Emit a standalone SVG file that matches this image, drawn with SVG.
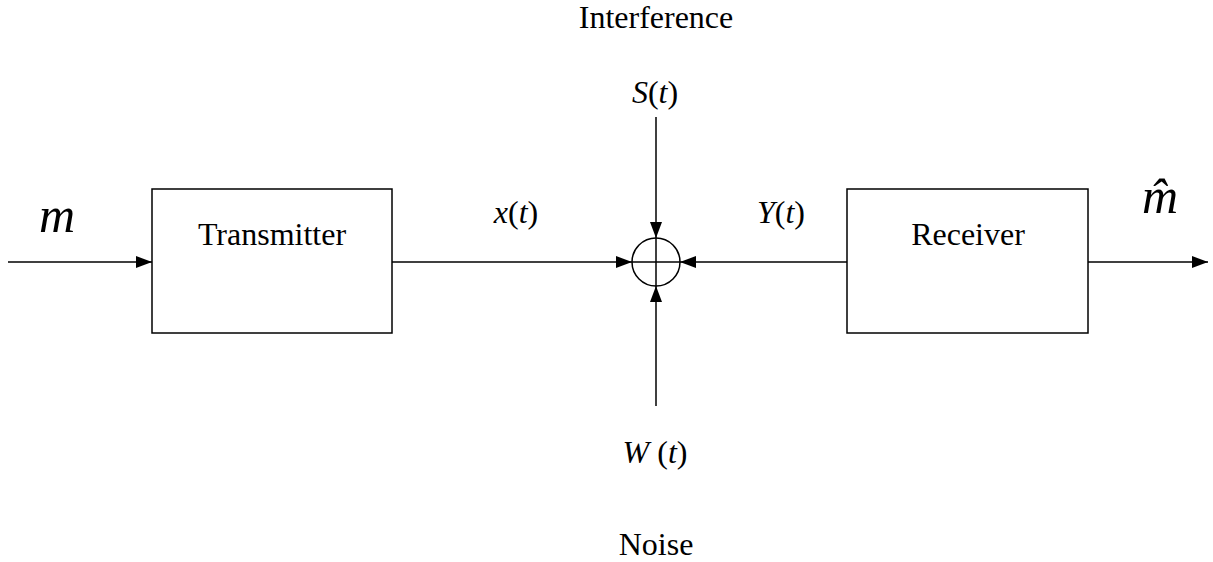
<svg xmlns="http://www.w3.org/2000/svg" width="1213" height="562" viewBox="0 0 1213 562">
<style>
.box{fill:#fff;stroke:#000;stroke-width:1.5}
.ln{stroke:#000;stroke-width:1.5;fill:none}
.t{font-family:"Liberation Serif",serif;font-size:32px;fill:#000;text-anchor:middle}
.i{font-style:italic}
.big{font-family:"Liberation Serif",serif;font-size:50px;font-style:italic;fill:#000;text-anchor:middle}
</style>
<defs>
<marker id="ah" markerWidth="16" markerHeight="12" refX="16" refY="6" orient="auto" markerUnits="userSpaceOnUse">
<path d="M0,0 L16,6 L0,12 Z" fill="#000"/>
</marker>
</defs>
<rect width="1213" height="562" fill="#fff"/>
<g id="connectors">
<line class="ln" x1="8" y1="262" x2="152" y2="262" marker-end="url(#ah)"/>
<line class="ln" x1="392" y1="262" x2="632" y2="262" marker-end="url(#ah)"/>
<line class="ln" x1="847" y1="262" x2="680" y2="262" marker-end="url(#ah)"/>
<line class="ln" x1="656" y1="117" x2="656" y2="238" marker-end="url(#ah)"/>
<line class="ln" x1="656" y1="406" x2="656" y2="286" marker-end="url(#ah)"/>
<line class="ln" x1="1088" y1="262" x2="1208" y2="262" marker-end="url(#ah)"/>
</g>
<g id="transmitter">
<rect class="box" x="152" y="189" width="240" height="144"/>
<text class="t" x="272" y="245">Transmitter</text>
</g>
<g id="receiver">
<rect class="box" x="847" y="189" width="241" height="144"/>
<text class="t" x="968" y="245">Receiver</text>
</g>
<g id="summer">
<circle class="ln" cx="656" cy="262" r="24"/>
<line class="ln" x1="632" y1="262" x2="680" y2="262"/>
<line class="ln" x1="656" y1="238" x2="656" y2="286"/>
</g>
<g id="labels">
<text class="t" x="656" y="28">Interference</text>
<text class="t" x="655" y="103"><tspan class="i">S</tspan>(<tspan class="i">t</tspan>)</text>
<text class="t" x="516" y="223"><tspan class="i">x</tspan>(<tspan class="i">t</tspan>)</text>
<text class="t" x="781" y="223"><tspan class="i">Y</tspan>(<tspan class="i">t</tspan>)</text>
<text class="t" x="655" y="463"><tspan class="i">W</tspan> (<tspan class="i">t</tspan>)</text>
<text class="t" x="656" y="555">Noise</text>
<text class="big" x="57" y="232">m</text>
<text class="big" x="1160" y="213">m̂</text>
</g>
</svg>
